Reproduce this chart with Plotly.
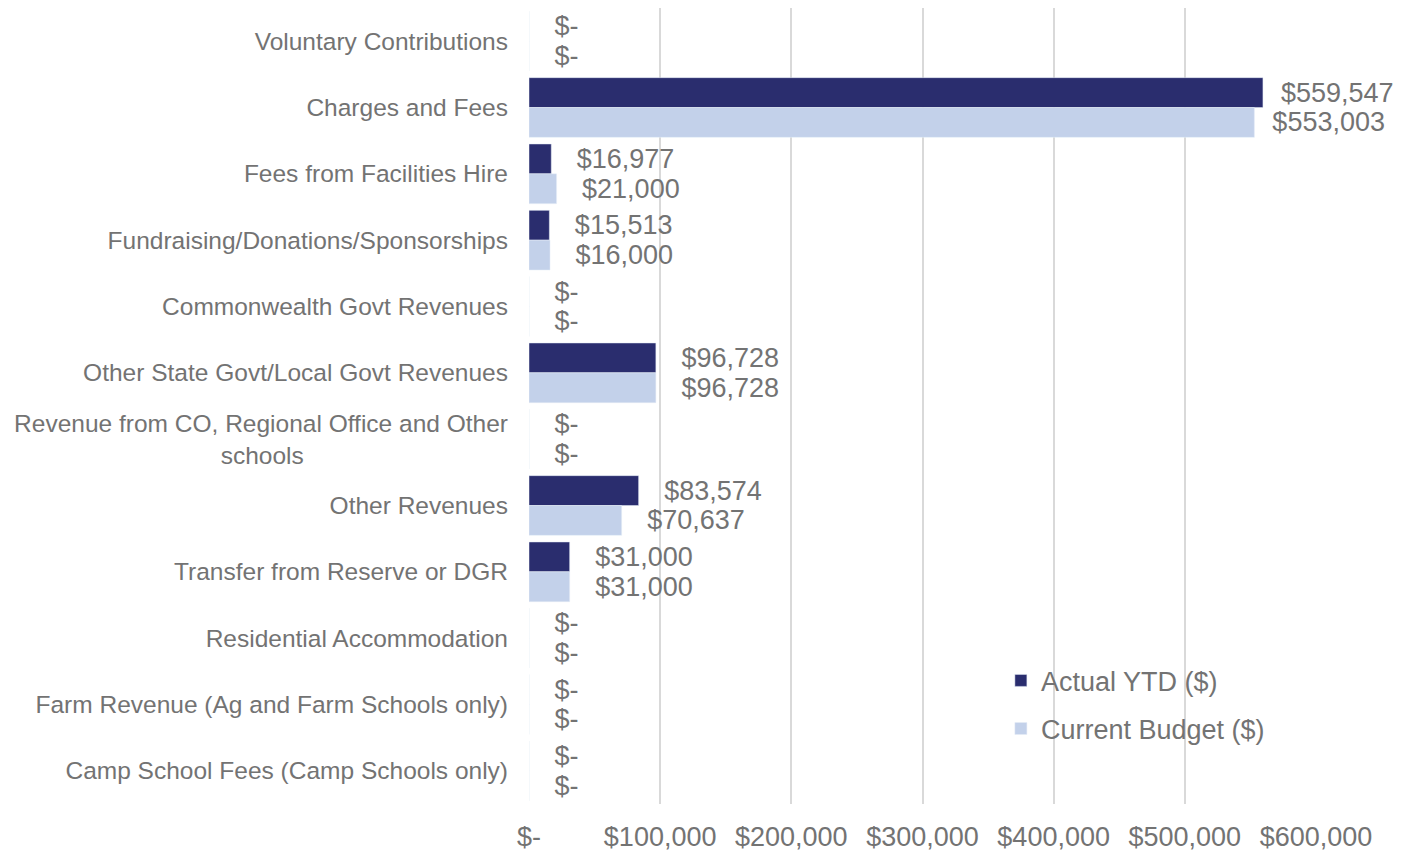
import plotly.graph_objects as go

categories = [
    "Voluntary Contributions",
    "Charges and Fees",
    "Fees from Facilities Hire",
    "Fundraising/Donations/Sponsorships",
    "Commonwealth Govt Revenues",
    "Other State Govt/Local Govt Revenues",
    "Revenue from CO, Regional Office and Other<br>schools" + "\u00a0" * 30,
    "Other Revenues",
    "Transfer from Reserve or DGR",
    "Residential Accommodation",
    "Farm Revenue (Ag and Farm Schools only)",
    "Camp School Fees (Camp Schools only)",
]
actual_ytd = [0, 559547, 16977, 15513, 0, 96728, 0, 83574, 31000, 0, 0, 0]
current_budget = [0, 553003, 21000, 16000, 0, 96728, 0, 70637, 31000, 0, 0, 0]
tick_values = [0, 100000, 200000, 300000, 400000, 500000, 600000]
tick_labels = ["$-", "$100,000", "$200,000", "$300,000", "$400,000", "$500,000", "$600,000"]

GREY = "#737373"


def money(v):
    # labels near the right edge sit closer to their bar, like Excel does
    pad = "\u00a0" * (2 if v > 500000 else 3)
    return pad + (f"${v:,.0f}" if v else "$-")


fig = go.Figure()
fig.add_trace(go.Bar(
    name="Actual YTD ($)", y=categories, x=actual_ytd, orientation="h",
    marker_color="#2A2D6E", text=[money(v) for v in actual_ytd],
    textposition="outside", cliponaxis=False, constraintext="none",
    outsidetextfont=dict(size=27, color=GREY), legendgroup="a",
))
fig.add_trace(go.Bar(
    name="Current Budget ($)", y=categories, x=current_budget, orientation="h",
    marker_color="#C3D1EA", text=[money(v) for v in current_budget],
    textposition="outside", cliponaxis=False, constraintext="none",
    outsidetextfont=dict(size=27, color=GREY), legendgroup="b",
))

fig.update_layout(
    width=1417, height=850,
    barmode="group", bargap=0.1, bargroupgap=0,
    plot_bgcolor="white", paper_bgcolor="white",
    font=dict(family="Liberation Sans, Arial", color=GREY, size=27),
    margin=dict(l=521, r=109, t=0, b=54),
    legend=dict(
        x=0.5996, y=0.1855, xanchor="left", yanchor="top",
        font=dict(size=27, color=GREY), bgcolor="rgba(0,0,0,0)",
        tracegroupgap=10, itemwidth=30,
    ),
)
fig.update_xaxes(
    range=[0, 600000], tickvals=tick_values, ticktext=tick_labels,
    showgrid=True, gridcolor="#D9D9D9", gridwidth=2,
    zeroline=False, showline=False, ticks="",
    tickfont=dict(size=27, color=GREY), ticklabelstandoff=14,
)
fig.update_yaxes(
    autorange="reversed", showgrid=False, zeroline=False, showline=False,
    ticks="", tickfont=dict(size=24.5, color=GREY), ticklabelstandoff=20,
)

fig.write_html("out.html")
